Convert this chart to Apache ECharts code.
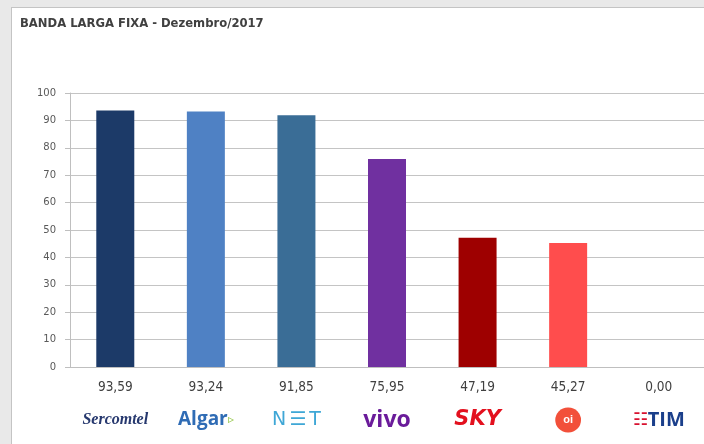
<!DOCTYPE html>
<html><head><meta charset="utf-8">
<script src="https://cdn.jsdelivr.net/npm/echarts@6/dist/echarts.min.js"></script>
<style>
html,body{margin:0;padding:0;background:#e9e9e9;width:704px;height:444px;overflow:hidden;}
#panel{position:absolute;left:11px;top:7px;width:720px;height:460px;background:#fff;border:1px solid #c4c4c4;box-sizing:border-box;}
#chart{position:absolute;left:0;top:0;width:704px;height:444px;}
</style></head>
<body><div id="panel"></div><div id="chart"></div>
<script>
var title = 'BANDA LARGA FIXA - Dezembro/2017';
var categories = ['Sercomtel', 'Algar', 'NET', 'vivo', 'SKY', 'Oi', 'TIM'];
var values = [93.59, 93.24, 91.85, 75.95, 47.19, 45.27, 0.00];
var colors = ['#1c3a68', '#4f81c4', '#3a6d96', '#7030a0', '#9e0000', '#ff4d4d', '#cccccc'];
var yTicks = [0, 10, 20, 30, 40, 50, 60, 70, 80, 90, 100];

var logoText = {
  'Sercomtel': '{sc|Sercomtel}',
  'Algar': '{al|Algar}{al2|▹}',
  'NET': '{net|N}{net2|☰}{net|T}',
  'vivo': '{vivo|vivo}',
  'SKY': '{sky|SKY}',
  'Oi': '{sp| }{oi|oi}{sp| }',
  'TIM': '{timr|☷}{tim|TIM}'
};

var LH = 40;
var chart = echarts.init(document.getElementById('chart'), null, {renderer: 'canvas'});
chart.setOption({
  animation: false,
  backgroundColor: 'transparent',
  title: {
    text: title, left: 15, top: 13,
    textStyle: {fontFamily: 'DejaVu Sans', fontWeight: 'bold', fontSize: 11.6, color: '#404040'}
  },
  grid: {left: 70, top: 93, width: 639, height: 274, containLabel: false},
  xAxis: {
    type: 'category', data: categories,
    axisLine: {lineStyle: {color: '#bfbfbf', width: 1}},
    axisTick: {show: false},
    axisLabel: {
      interval: 0, margin: 7,
      formatter: function (v, i) {
        return '{v|' + values[i].toFixed(2).replace('.', ',') + '}\n' + logoText[v];
      },
      rich: {
        v: {fontFamily: 'DejaVu Sans Condensed', fontSize: 13.5, color: '#404040', lineHeight: 26},
        sp: {fontSize: 1, lineHeight: LH, color: 'rgba(0,0,0,0)'},
        sc: {fontFamily: 'Liberation Serif', fontStyle: 'italic', fontWeight: 'bold', fontSize: 16, color: '#26386e', lineHeight: LH},
        al: {fontFamily: 'Open Sans', fontWeight: 'bold', fontSize: 19, color: '#2f6cb5', lineHeight: LH},
        al2: {fontSize: 12, color: '#8fc33f', lineHeight: LH},
        net: {fontFamily: 'DejaVu Sans', fontSize: 19, color: '#3fa7d6', lineHeight: LH},
        net2: {fontFamily: 'DejaVu Sans', fontSize: 19, color: '#3fa7d6', lineHeight: LH, padding: [0, 3, 0, 3]},
        vivo: {fontFamily: 'Open Sans', fontWeight: 'bold', fontSize: 23, color: '#6a1b9a', lineHeight: LH},
        sky: {fontFamily: 'DejaVu Sans', fontStyle: 'italic', fontWeight: 'bold', fontSize: 21, color: '#e3101e', lineHeight: LH},
        oi: {fontSize: 11, fontWeight: 'bold', color: '#fff', backgroundColor: '#f2503a', borderRadius: 14, padding: [7, 8, 7, 8], verticalAlign: 'middle'},
        timr: {fontSize: 17, color: '#d8112f', lineHeight: LH},
        tim: {fontFamily: 'Open Sans', fontWeight: 'bold', fontSize: 20, color: '#1b3f8b', lineHeight: LH}
      }
    }
  },
  yAxis: {
    type: 'value', min: 0, max: 100, interval: 10,
    axisLine: {show: true, lineStyle: {color: '#bfbfbf'}},
    axisTick: {show: true, length: 5, lineStyle: {color: '#bfbfbf'}},
    splitLine: {lineStyle: {color: '#c4c4c4', width: 1}},
    axisLabel: {margin: 14, fontFamily: 'DejaVu Sans', fontSize: 10, color: '#595959',
      formatter: function (v) { return yTicks.indexOf(v) >= 0 ? String(v) : ''; }}
  },
  series: [{
    type: 'bar', barWidth: 38,
    data: values.map(function (v, i) { return {value: v, itemStyle: {color: colors[i]}}; })
  }]
});
</script></body></html>
